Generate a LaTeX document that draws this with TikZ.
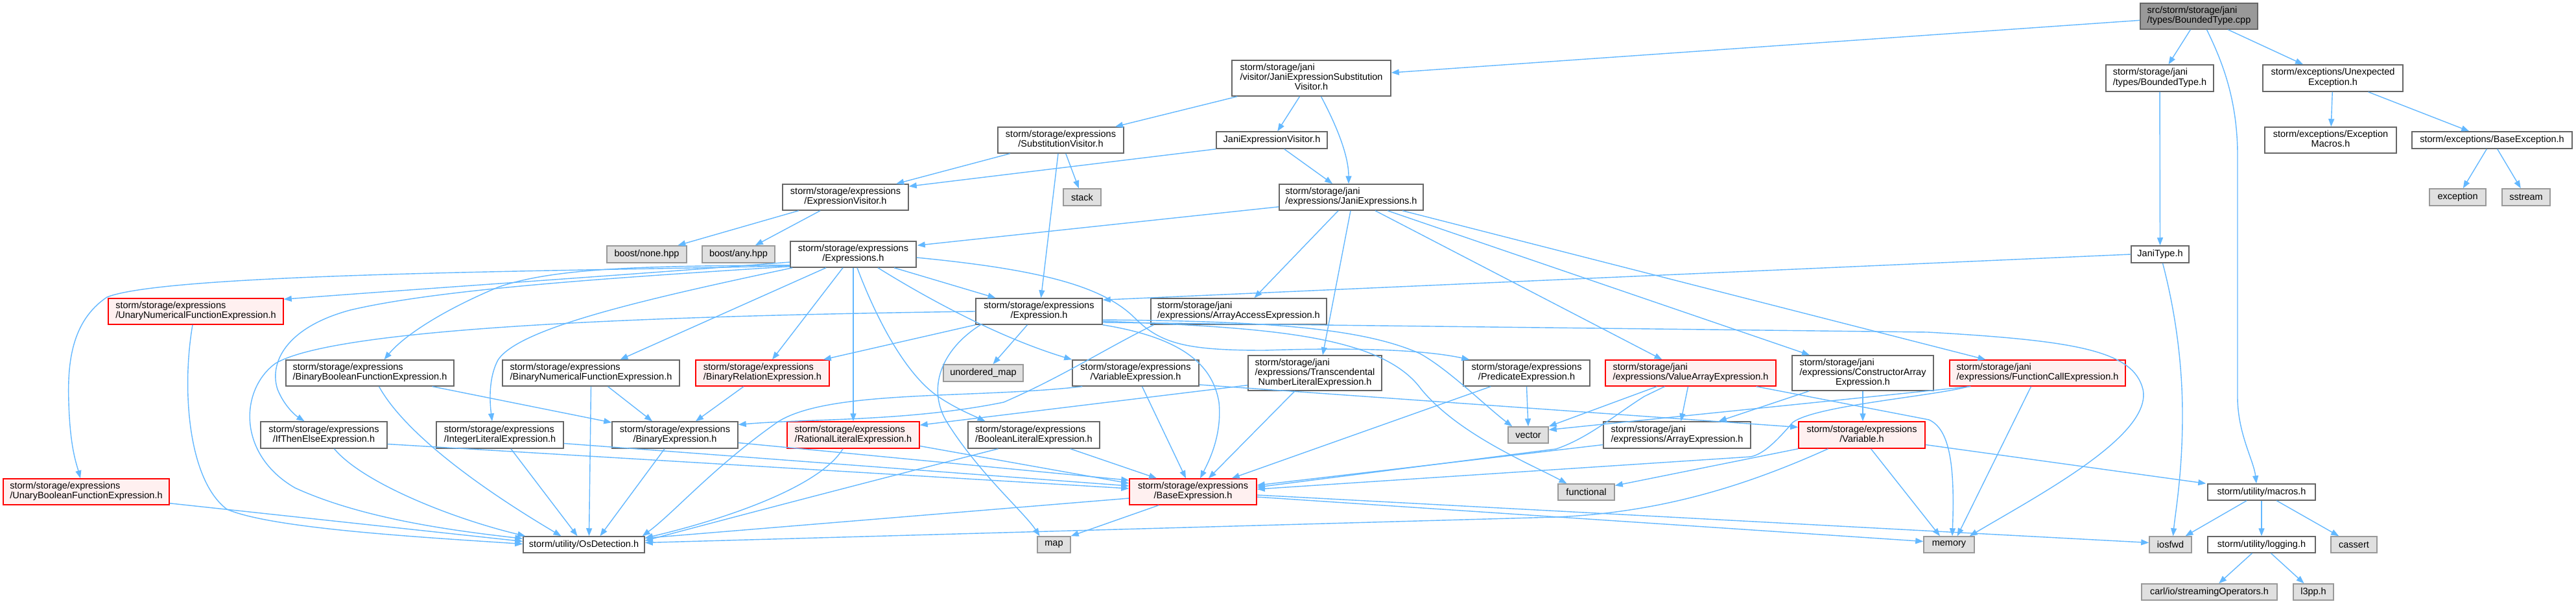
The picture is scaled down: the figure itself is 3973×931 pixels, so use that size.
\documentclass[tikz,border=0pt]{standalone}
\usepackage{fontspec}
\setmainfont{Liberation Sans}
\usetikzlibrary{arrows.meta,calc}
\definecolor{eb}{HTML}{63B8FF}
\definecolor{redfill}{HTML}{FFF0F0}
\definecolor{greyfill}{HTML}{E0E0E0}
\definecolor{gborder}{HTML}{999999}
\definecolor{nborder}{HTML}{666666}
\definecolor{rootfill}{HTML}{999999}
\newcommand{\nodefont}{\fontsize{14.5}{15}\selectfont}
\newcommand{\lbtwo}[2]{\begin{tabular}{@{}l@{}}#1\\\multicolumn{1}{@{}c@{}}{#2}\end{tabular}}
\newcommand{\lbthree}[3]{\begin{tabular}{@{}l@{}}#1\\#2\\\multicolumn{1}{@{}c@{}}{#3}\end{tabular}}
\tikzset{
 nb/.style={draw=nborder, fill=white, line width=1.5pt, inner sep=0pt, font=\nodefont, text=black},
 rb/.style={nb, draw=red, fill=redfill},
 gb/.style={nb, draw=gborder, fill=greyfill},
 rootb/.style={nb, draw=nborder, fill=rootfill},
 dep/.style={draw=eb, line width=1.4pt, -{Triangle[length=12pt,width=9pt]}}
}
\begin{document}
\begin{tikzpicture}[x=1pt,y=-1pt]
\useasboundingbox (0,0) rectangle (3973,931);
\fill[white] (0,0) rectangle (3973,931);
% nodes
\node[rootb,minimum width=181pt,minimum height=40pt] (root) at (3391.5,25) {\lbtwo{src/storm/storage/jani}{/types/BoundedType.cpp}};
\node[nb,minimum width=166pt,minimum height=41pt] (bth) at (3331,120.5) {\lbtwo{storm/storage/jani}{/types/BoundedType.h}};
\node[nb,minimum width=216pt,minimum height=41pt] (unexp) at (3598,120.5) {\lbtwo{storm/exceptions/Unexpected}{Exception.h}};
\node[nb,minimum width=203pt,minimum height=40pt] (excmac) at (3594.5,216) {\lbtwo{storm/exceptions/Exception}{Macros.h}};
\node[nb,minimum width=247pt,minimum height=26pt] (baseexc) at (3843.5,216) {storm/exceptions/BaseException.h};
\node[gb,minimum width=87pt,minimum height=26pt] (exception) at (3790.5,304) {exception};
\node[gb,minimum width=74pt,minimum height=26pt] (sstream) at (3896,304) {sstream};
\node[nb,minimum width=245pt,minimum height=55pt] (jesv) at (2022.5,120.5) {\lbthree{storm/storage/jani}{/visitor/JaniExpressionSubstitution}{Visitor.h}};
\node[nb,minimum width=194pt,minimum height=40pt] (subst) at (1636,216) {\lbtwo{storm/storage/expressions}{/SubstitutionVisitor.h}};
\node[nb,minimum width=171pt,minimum height=26pt] (jev) at (1961.5,216) {JaniExpressionVisitor.h};
\node[nb,minimum width=194pt,minimum height=40pt] (exprvis) at (1304,304) {\lbtwo{storm/storage/expressions}{/ExpressionVisitor.h}};
\node[gb,minimum width=58pt,minimum height=26pt] (stack) at (1669,304) {stack};
\node[nb,minimum width=222pt,minimum height=40pt] (janiexprs) at (2084,304) {\lbtwo{storm/storage/jani}{/expressions/JaniExpressions.h}};
\node[gb,minimum width=123pt,minimum height=26pt] (none) at (997.5,392) {boost/none.hpp};
\node[gb,minimum width=112pt,minimum height=26pt] (any) at (1139,392) {boost/any.hpp};
\node[nb,minimum width=194pt,minimum height=40pt] (exprs) at (1316,392) {\lbtwo{storm/storage/expressions}{/Expressions.h}};
\node[nb,minimum width=89pt,minimum height=26pt] (janitype) at (3331.5,392) {JaniType.h};
\node[rb,minimum width=270pt,minimum height=40pt] (unnum) at (302,480) {\lbtwo{storm/storage/expressions}{/UnaryNumericalFunctionExpression.h}};
\node[nb,minimum width=195pt,minimum height=40pt] (expr) at (1602.5,480) {\lbtwo{storm/storage/expressions}{/Expression.h}};
\node[nb,minimum width=271pt,minimum height=40pt] (arracc) at (1910.5,480) {\lbtwo{storm/storage/jani}{/expressions/ArrayAccessExpression.h}};
\node[nb,minimum width=259pt,minimum height=40pt] (binbool) at (570.5,575) {\lbtwo{storm/storage/expressions}{/BinaryBooleanFunctionExpression.h}};
\node[nb,minimum width=273pt,minimum height=40pt] (binnum) at (911.5,575) {\lbtwo{storm/storage/expressions}{/BinaryNumericalFunctionExpression.h}};
\node[rb,minimum width=206pt,minimum height=40pt] (binrel) at (1176,575) {\lbtwo{storm/storage/expressions}{/BinaryRelationExpression.h}};
\node[gb,minimum width=123pt,minimum height=26pt] (umap) at (1516.5,575) {unordered\_map};
\node[nb,minimum width=195pt,minimum height=40pt] (varexpr) at (1751.5,575) {\lbtwo{storm/storage/expressions}{/VariableExpression.h}};
\node[nb,minimum width=206pt,minimum height=54pt] (transc) at (2028,575) {\lbthree{storm/storage/jani}{/expressions/Transcendental}{NumberLiteralExpression.h}};
\node[nb,minimum width=195pt,minimum height=40pt] (pred) at (2354.5,575) {\lbtwo{storm/storage/expressions}{/PredicateExpression.h}};
\node[rb,minimum width=263pt,minimum height=40pt] (valarr) at (2607.5,575) {\lbtwo{storm/storage/jani}{/expressions/ValueArrayExpression.h}};
\node[nb,minimum width=218pt,minimum height=54pt] (consarr) at (2873,575) {\lbthree{storm/storage/jani}{/expressions/ConstructorArray}{Expression.h}};
\node[rb,minimum width=271pt,minimum height=40pt] (funcall) at (3142.5,575) {\lbtwo{storm/storage/jani}{/expressions/FunctionCallExpression.h}};
\node[nb,minimum width=195pt,minimum height=41pt] (ite) at (499.5,670.5) {\lbtwo{storm/storage/expressions}{/IfThenElseExpression.h}};
\node[nb,minimum width=196pt,minimum height=41pt] (intlit) at (771,670.5) {\lbtwo{storm/storage/expressions}{/IntegerLiteralExpression.h}};
\node[nb,minimum width=194pt,minimum height=41pt] (binexp) at (1041,670.5) {\lbtwo{storm/storage/expressions}{/BinaryExpression.h}};
\node[rb,minimum width=204pt,minimum height=41pt] (ratlit) at (1316,670.5) {\lbtwo{storm/storage/expressions}{/RationalLiteralExpression.h}};
\node[nb,minimum width=203pt,minimum height=41pt] (boollit) at (1594.5,670.5) {\lbtwo{storm/storage/expressions}{/BooleanLiteralExpression.h}};
\node[gb,minimum width=62pt,minimum height=25pt] (vector) at (2357,670.5) {vector};
\node[nb,minimum width=227pt,minimum height=41pt] (arrexp) at (2586.5,670.5) {\lbtwo{storm/storage/jani}{/expressions/ArrayExpression.h}};
\node[rb,minimum width=195pt,minimum height=41pt] (variable) at (2871.5,670.5) {\lbtwo{storm/storage/expressions}{/Variable.h}};
\node[rb,minimum width=256pt,minimum height=40pt] (unbool) at (133,758) {\lbtwo{storm/storage/expressions}{/UnaryBooleanFunctionExpression.h}};
\node[rb,minimum width=196pt,minimum height=40pt] (base) at (1840,758) {\lbtwo{storm/storage/expressions}{/BaseExpression.h}};
\node[gb,minimum width=87pt,minimum height=25pt] (functional) at (2446.5,758.5) {functional};
\node[nb,minimum width=166pt,minimum height=25pt] (macros) at (3488,758.5) {storm/utility/macros.h};
\node[nb,minimum width=187pt,minimum height=25pt] (os) at (900.5,839.5) {storm/utility/OsDetection.h};
\node[gb,minimum width=51pt,minimum height=25pt] (map) at (1625.5,839.5) {map};
\node[gb,minimum width=78pt,minimum height=25pt] (memory) at (3006,839.5) {memory};
\node[gb,minimum width=65pt,minimum height=25pt] (iosfwd) at (3347.5,839.5) {iosfwd};
\node[nb,minimum width=166pt,minimum height=25pt] (logging) at (3488,839.5) {storm/utility/logging.h};
\node[gb,minimum width=71pt,minimum height=25pt] (cassert) at (3630.5,839.5) {cassert};
\node[gb,minimum width=209pt,minimum height=25pt] (carl) at (3407.5,912.5) {carl/io/streamingOperators.h};
\node[gb,minimum width=62pt,minimum height=25pt] (l3pp) at (3568,912.5) {l3pp.h};
% edges: top part
\draw[dep] (root) -- (jesv);
\draw[dep] (root) -- (bth);
\draw[dep] (root) -- (unexp);
\draw[dep] ($(root.south)+(12,0)$) .. controls (3425,90) and (3451,150) .. (3451,240) -- (3451,615) .. controls (3452,670) and (3476,710) .. ($(macros.north)+(-8,0)$);
\draw[dep] (unexp) -- (excmac);
\draw[dep] (unexp) -- (baseexc);
\draw[dep] (baseexc) -- (exception);
\draw[dep] (baseexc) -- (sstream);
\draw[dep] (bth) -- (janitype);
\draw[dep] (janitype.west) -- ($(expr.north east)+(0,3)$);
\draw[dep] ($(janitype.south)+(4,0)$) .. controls (3355,480) and (3366,560) .. (3366,640) .. controls (3366,730) and (3355,790) .. ($(iosfwd.north)+(4,0)$);
\draw[dep] (jesv) -- (subst);
\draw[dep] (jesv) -- (jev);
\draw[dep] ($(jesv.south)+(15,0)$) .. controls (2062,195) and (2080,240) .. ($(janiexprs.north)+(-4,0)$);
\draw[dep] (subst) -- (exprvis);
\draw[dep] (subst) -- (stack);
\draw[dep] ($(subst.south)+(-4,0)$) -- ($(expr.north)+(3,0)$);
\draw[dep] (jev.south west) -- ($(exprvis.north east)+(0,4)$);
\draw[dep] (jev) -- (janiexprs);
\draw[dep] (exprvis) -- (none);
\draw[dep] (exprvis) -- (any);
% JaniExpressions.h
\draw[dep] ($(janiexprs.south west)+(0,-6)$) -- ($(exprs.north east)+(1,7)$);
\draw[dep] ($(janiexprs.south)+(-20,0)$) -- ($(arracc.north)+(24,0)$);
\draw[dep] ($(janiexprs.south)+(-1,0)$) -- ($(transc.north)+(12,0)$);
\draw[dep] ($(janiexprs.south)+(37,0)$) -- ($(valarr.north)+(-44,0)$);
\draw[dep] ($(janiexprs.south)+(56,0)$) -- ($(consarr.north)+(-82,0)$);
\draw[dep] ($(janiexprs.south)+(79,0)$) -- ($(funcall.north)+(-80,0)$);
% Expressions.h
\draw[dep] ($(exprs.west)+(0,12)$) .. controls (950,425) and (650,445) .. ($(unnum.north east)+(0,2)$);
\draw[dep] ($(exprs.south west)+(0,-3)$) .. controls (900,418) and (260,420) .. (165,458) .. controls (110,495) and (104,560) .. (106,620) .. controls (108,690) and (118,715) .. ($(unbool.north)+(-9,0)$);
\draw[dep] ($(exprs.south west)+(0,-4)$) .. controls (1000,410) and (860,412) .. (770,442) .. controls (690,475) and (625,515) .. ($(binbool.north)+(22,0)$);
\draw[dep] ($(exprs.south west)+(0,-2)$) .. controls (950,428) and (680,445) .. (540,478) .. controls (440,505) and (415,560) .. (428,600) .. controls (438,625) and (455,640) .. ($(ite.north)+(-30,0)$);
\draw[dep] ($(exprs.south west)+(4,0)$) .. controls (1000,460) and (800,505) .. (768,555) .. controls (752,585) and (756,625) .. ($(intlit.north)+(-12,0)$);
\draw[dep] ($(exprs.south)+(-42,0)$) -- ($(binnum.north)+(45,0)$);
\draw[dep] ($(exprs.south)+(-16,0)$) -- ($(binrel.north)+(15,0)$);
\draw[dep] (exprs.south) -- (ratlit.north);
\draw[dep] ($(exprs.south)+(6,0)$) .. controls (1355,500) and (1400,580) .. (1448,612) .. controls (1475,630) and (1500,640) .. ($(boollit.north)+(-75,0)$);
\draw[dep] ($(exprs.south)+(38,0)$) .. controls (1430,460) and (1540,520) .. (varexpr.north west);
\draw[dep] ($(exprs.south)+(63,0)$) -- ($(expr.north)+(-67,0)$);
\draw[dep] ($(exprs.east)+(0,5)$) .. controls (1600,415) and (1700,440) .. (1750,490) .. controls (1790,530) and (1830,540) .. (1950,540) .. controls (2100,535) and (2200,540) .. ($(pred.north west)+(10,0)$);
% Expression.h
\draw[dep] (expr.south west) -- ($(binrel.north east)+(-10,0)$);
\draw[dep] ($(expr.south)+(-18,0)$) -- ($(umap.north)+(15,0)$);
\draw[dep] ($(expr.south west)+(8,0)$) .. controls (1450,540) and (1430,600) .. (1460,650) .. controls (1510,730) and (1580,790) .. ($(map.north)+(-22,0)$);
\draw[dep] (expr.south east) .. controls (1820,520) and (1870,560) .. (1880,620) .. controls (1885,670) and (1865,710) .. ($(base.north)+(11,0)$);
\draw[dep] (expr.west) .. controls (1000,487) and (520,505) .. (425,560) .. controls (370,600) and (365,700) .. (455,752) .. controls (560,800) and (700,818) .. ($(os.north west)+(0,4)$);
\draw[dep] ($(expr.east)+(0,13)$) .. controls (1950,495) and (2100,505) .. (2190,545) .. controls (2235,570) and (2290,625) .. ($(vector.north west)+(7,0)$);
\draw[dep] ($(expr.east)+(0,15)$) .. controls (1950,505) and (2130,515) .. (2192,600) .. controls (2250,670) and (2360,715) .. ($(functional.north)+(-30,0)$);
\draw[dep] ($(expr.east)+(0,17)$) -- (2973,512) .. controls (3200,525) and (3290,540) .. (3305,600) .. controls (3320,670) and (3150,760) .. ($(memory.north east)+(-8,0)$);
% lower expression nodes
\draw[dep] ($(unnum.south)+(-5,0)$) .. controls (280,600) and (290,740) .. (350,785) .. controls (420,815) and (650,828) .. ($(os.west)+(0,-1)$);
\draw[dep] ($(unbool.south east)+(0,-3)$) -- ($(os.west)+(0,-5)$);
\draw[dep] ($(binbool.south)+(14,0)$) .. controls (620,660) and (720,740) .. ($(os.north)+(-35,0)$);
\draw[dep] ($(binbool.south east)+(-34,0)$) -- ($(binexp.north west)+(0,2)$);
\draw[dep] ($(binnum.south)+(26,0)$) -- ($(binexp.north)+(-35,0)$);
\draw[dep] (binnum.south) -- ($(os.north)+(8,0)$);
\draw[dep] ($(binrel.south)+(-29,0)$) -- ($(binexp.north)+(32,0)$);
\draw[dep] ($(ite.east)+(0,14)$) -- ($(base.west)+(0,-5)$);
\draw[dep] ($(ite.south)+(16,0)$) .. controls (560,745) and (700,800) .. ($(os.north west)+(4,0)$);
\draw[dep] ($(intlit.east)+(0,13)$) -- ($(base.west)+(0,-9)$);
\draw[dep] ($(intlit.south)+(17,0)$) -- ($(os.north)+(-10,0)$);
\draw[dep] ($(binexp.east)+(0,12)$) -- ($(base.north west)+(0,3)$);
\draw[dep] ($(binexp.south)+(-16,0)$) -- ($(os.north)+(25,0)$);
\draw[dep] ($(ratlit.east)+(0,17)$) -- ($(base.west)+(0,-13)$);
\draw[dep] ($(ratlit.south)+(-16,0)$) .. controls (1265,750) and (1120,800) .. ($(os.north east)+(0,3)$);
\draw[dep] ($(boollit.south east)+(-46,0)$) -- ($(base.north)+(-56,0)$);
\draw[dep] ($(boollit.south)+(-55,0)$) .. controls (1330,745) and (1120,800) .. ($(os.east)+(0,-6)$);
\draw[dep] ($(base.west)+(0,10)$) -- ($(os.east)+(0,-10)$);
\draw[dep] ($(base.south west)+(46,0)$) -- (map.north east);
\draw[dep] ($(base.east)+(0,8)$) -- ($(memory.west)+(0,-5)$);
\draw[dep] ($(base.east)+(0,5)$) -- ($(iosfwd.west)+(0,-3)$);
\draw[dep] ($(varexpr.south)+(10,0)$) -- ($(base.north)+(-11,0)$);
\draw[dep] ($(varexpr.east)+(0,18)$) -- ($(variable.west)+(0,-12)$);
\draw[dep] ($(varexpr.south west)+(16,0)$) .. controls (1500,615) and (1280,600) .. (1200,650) .. controls (1100,720) and (1040,790) .. ($(os.north east)+(-4,0)$);
\draw[dep] ($(arracc.south west)+(5,0)$) .. controls (1700,540) and (1640,580) .. (1548,620) .. controls (1400,650) and (1250,645) .. ($(binexp.east)+(0,-16)$);
\draw[dep] ($(transc.south west)+(0,-9)$) -- ($(ratlit.north east)+(0,6)$);
\draw[dep] ($(transc.south)+(-31,0)$) -- ($(base.north)+(24,0)$);
\draw[dep] ($(pred.south west)+(43,0)$) -- ($(base.north east)+(-39,0)$);
\draw[dep] (pred.south) -- (vector.north);
% jani expressions
\draw[dep] ($(valarr.south)+(-52,0)$) -- (vector.north east);
\draw[dep] ($(valarr.south)+(-40,0)$) -- (2536,611) .. controls (2490,640) and (2450,675) .. (2400,692) -- ($(base.east)+(0,-7)$);
\draw[dep] ($(valarr.south)+(-4,0)$) -- ($(arrexp.north)+(6,0)$);
\draw[dep] ($(valarr.south east)+(-31,0)$) -- (2975,647) .. controls (3008,662) and (3015,720) .. ($(memory.north)+(5,0)$);
\draw[dep] ($(consarr.south west)+(27,0)$) -- ($(arrexp.north east)+(-50,0)$);
\draw[dep] (consarr.south) -- ($(variable.north)+(1.5,0)$);
\draw[dep] ($(funcall.south west)+(33,0)$) -- ($(vector.east)+(0,-8)$);
\draw[dep] ($(funcall.south west)+(30,0)$) .. controls (2980,611) and (2800,625) .. (2765,651) .. controls (2740,680) and (2720,700) .. (2700,704) -- ($(base.east)+(0,-4)$);
\draw[dep] ($(funcall.south)+(-10,0)$) -- ($(memory.north east)+(-27,0)$);
\draw[dep] ($(arrexp.west)+(0,15)$) -- ($(base.east)+(0,-10)$);
\draw[dep] (variable.south west) -- ($(functional.east)+(0,-10)$);
\draw[dep] ($(variable.south)+(14,0)$) -- ($(memory.north)+(-14,0)$);
\draw[dep] ($(variable.south)+(-52,0)$) .. controls (2690,750) and (2560,790) .. (2400,797) -- ($(os.east)+(0,-3)$);
\draw[dep] ($(variable.east)+(0,15)$) -- ($(macros.north west)+(-2,0)$);
% utility
\draw[dep] (macros) -- (iosfwd);
\draw[dep] (macros) -- (logging);
\draw[dep] (macros) -- (cassert);
\draw[dep] (logging) -- (carl);
\draw[dep] (logging) -- (l3pp);
\end{tikzpicture}
\end{document}
